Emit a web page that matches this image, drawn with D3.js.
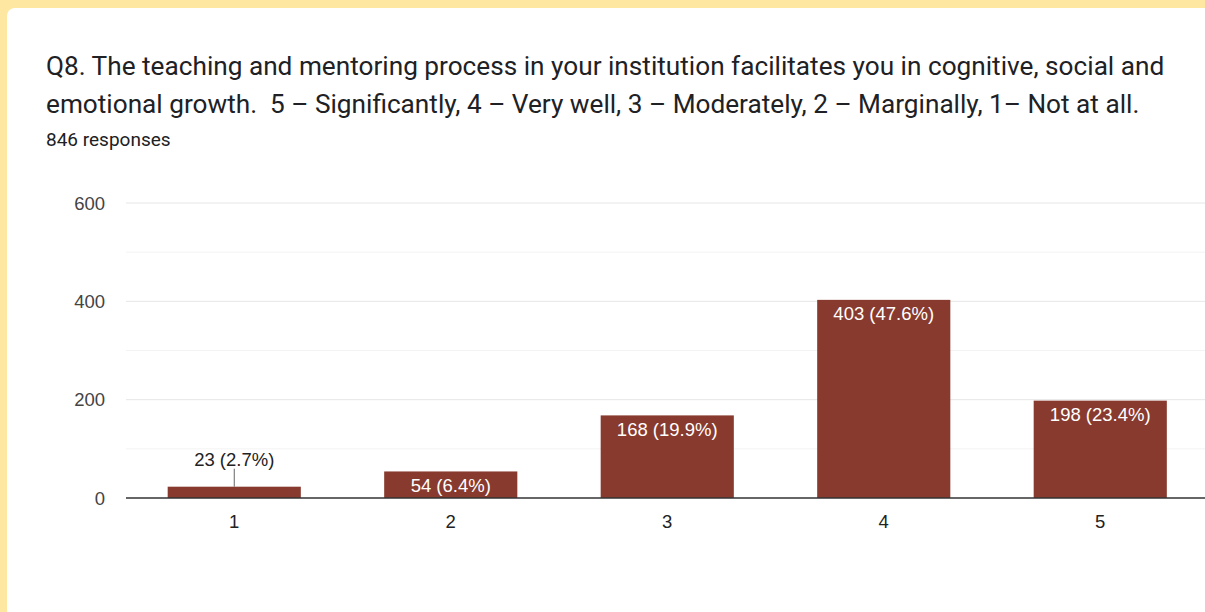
<!DOCTYPE html>
<html>
<head>
<meta charset="utf-8">
<script src="https://cdn.jsdelivr.net/npm/d3@7"></script>
<style>
  html, body { margin: 0; padding: 0; background: #fee7a0; }
  #chart { width: 1205px; height: 612px; overflow: hidden; }
</style>
</head>
<body>
<div id="chart"></div>
<script>
// data
var categories = ["1", "2", "3", "4", "5"]
var counts = [23, 54, 168, 403, 198]
var percents = ["2.7%", "6.4%", "19.9%", "47.6%", "23.4%"]
var yTicks = [0, 200, 400, 600]
var yMinor = [100, 300, 500]
var titleLines = [
    "Q8. The teaching and mentoring process in your institution facilitates you in cognitive, social and",
    "emotional growth.  5 \u2013 Significantly, 4 \u2013 Very well, 3 \u2013 Moderately, 2 \u2013 Marginally, 1\u2013 Not at all."
]
var subtitle = "846 responses"

var svgWidth = 1205
var svgHeight = 612

var svg = d3.select("#chart")
    .append("svg")
    .attr("width", svgWidth)
    .attr("height", svgHeight)

// white card
svg.append("rect")
    .attr("x", 7)
    .attr("y", 8)
    .attr("width", svgWidth)
    .attr("height", svgHeight)
    .attr("rx", 8)
    .attr("fill", "#ffffff")

var title = svg.append("text")
    .attr("font-family", "Roboto, sans-serif")
    .attr("font-size", "26.2px")
    .attr("fill", "#202124")
    .style("white-space", "pre")
title.selectAll("tspan")
    .data(titleLines)
    .enter()
    .append("tspan")
    .attr("x", 46)
    .attr("y", (d, i) => 75 + i * 37.5)
    .text(d => d)

svg.append("text")
    .attr("x", 46)
    .attr("y", 146)
    .attr("font-family", "Roboto, sans-serif")
    .attr("font-size", "19px")
    .attr("fill", "#202124")
    .text(subtitle)

var plotLeft = 126
var XScale = d3.scaleBand()
    .domain(categories)
    .range([plotLeft, plotLeft + 5 * 216.5])
    .paddingInner(0.385)
    .paddingOuter(0.1925)
var YScale = d3.scaleLinear()
    .domain([0, 600])
    .range([498, 203])

var chartFont = "'Liberation Sans', Arial, sans-serif"
var labelSize = "18.5px"

// gridlines
svg.selectAll(".minor")
    .data(yMinor)
    .enter()
    .append("line")
    .attr("x1", plotLeft)
    .attr("x2", svgWidth)
    .attr("y1", d => YScale(d))
    .attr("y2", d => YScale(d))
    .attr("stroke", "#f3f3f3")
    .attr("stroke-width", 1)
svg.selectAll(".major")
    .data(yTicks.filter(d => d > 0))
    .enter()
    .append("line")
    .attr("x1", plotLeft)
    .attr("x2", svgWidth)
    .attr("y1", d => YScale(d))
    .attr("y2", d => YScale(d))
    .attr("stroke", "#e6e6e6")
    .attr("stroke-width", 1)

svg.selectAll(".ylab")
    .data(yTicks)
    .enter()
    .append("text")
    .attr("x", 105)
    .attr("y", d => YScale(d))
    .attr("dy", "0.36em")
    .attr("text-anchor", "end")
    .attr("font-family", chartFont)
    .attr("font-size", labelSize)
    .attr("fill", "#444444")
    .text(d => d)

var rows = categories.map((c, i) => ({ cat: c, n: counts[i], pct: percents[i] }))

svg.selectAll(".bar")
    .data(rows)
    .enter()
    .append("rect")
    .attr("x", d => XScale(d.cat))
    .attr("y", d => YScale(d.n))
    .attr("width", XScale.bandwidth())
    .attr("height", d => YScale(0) - YScale(d.n))
    .attr("fill", "#883a2e")

// baseline
svg.append("line")
    .attr("x1", plotLeft)
    .attr("x2", svgWidth)
    .attr("y1", YScale(0))
    .attr("y2", YScale(0))
    .attr("stroke", "#333333")
    .attr("stroke-width", 1.5)

svg.selectAll(".xlab")
    .data(categories)
    .enter()
    .append("text")
    .attr("x", d => XScale(d) + XScale.bandwidth() / 2)
    .attr("y", 528)
    .attr("text-anchor", "middle")
    .attr("font-family", chartFont)
    .attr("font-size", labelSize)
    .attr("fill", "#222222")
    .text(d => d)

// value labels: inside for tall bars, above with a leader for short ones
rows.forEach(d => {
    var cx = XScale(d.cat) + XScale.bandwidth() / 2
    var top = YScale(d.n)
    var inside = YScale(0) - top > 20
    if (!inside) {
        svg.append("line")
            .attr("x1", cx)
            .attr("x2", cx)
            .attr("y1", top)
            .attr("y2", top - 18)
            .attr("stroke", "#666666")
            .attr("stroke-width", 1)
    }
    svg.append("text")
        .attr("x", cx)
        .attr("y", inside ? top + 20.5 : top - 21)
        .attr("text-anchor", "middle")
        .attr("font-family", chartFont)
        .attr("font-size", labelSize)
        .attr("fill", inside ? "#ffffff" : "#222222")
        .text(d.n + " (" + d.pct + ")")
})
</script>
</body>
</html>
